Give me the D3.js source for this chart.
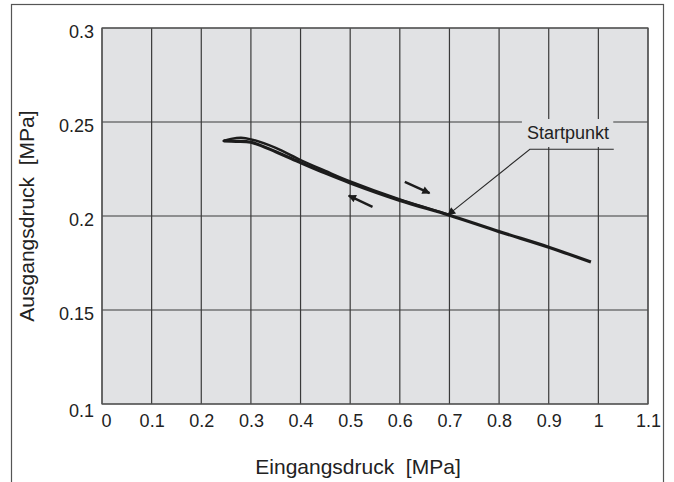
<!DOCTYPE html>
<html>
<head>
<meta charset="utf-8">
<script src="https://cdn.jsdelivr.net/npm/d3@7"></script>
<style>
  html, body { margin: 0; padding: 0; background: #ffffff; }
  svg { display: block; font-family: "Liberation Sans", Arial, Helvetica, sans-serif; }
  text { white-space: pre; }
</style>
</head>
<body>
<svg id="chart" width="674" height="482"></svg>
<script>
// ---- data ----
const xTicks = [0, 0.1, 0.2, 0.3, 0.4, 0.5, 0.6, 0.7, 0.8, 0.9, 1, 1.1];
const yTicks = [0.1, 0.15, 0.2, 0.25, 0.3];
const xTickLabels = ["0", "0.1", "0.2", "0.3", "0.4", "0.5", "0.6", "0.7", "0.8", "0.9", "1", "1.1"];
const yTickLabels = ["0.1", "0.15", "0.2", "0.25", "0.3"];

// branch with the upper bulge (near 0.25–0.45 MPa)
const upperX = [0.245, 0.26, 0.28, 0.30, 0.35, 0.40, 0.45, 0.50, 0.60, 0.70];
const upperY = [0.2400, 0.2410, 0.2416, 0.2408, 0.2362, 0.2298, 0.2240, 0.2184, 0.2088, 0.2006];
// main branch down to ~1 MPa
const lowerX = [0.245, 0.27, 0.30, 0.35, 0.40, 0.45, 0.50, 0.60, 0.70, 0.80, 0.90, 0.985];
const lowerY = [0.2400, 0.2397, 0.2392, 0.2342, 0.2284, 0.2228, 0.2176, 0.2083, 0.2004, 0.1917, 0.1834, 0.1755];

// direction arrows [x1, y1, x2, y2] (arrowhead at x2,y2)
const arrowRight = [0.610, 0.2182, 0.660, 0.2122];
const arrowLeft = [0.545, 0.2049, 0.497, 0.2108];

// Startpunkt annotation
const startPoint = [0.697, 0.2006];
const leaderElbow = [0.862, 0.2355];
const leaderEnd = [1.031, 0.2355];
const labelText = "Startpunkt";
const labelPos = [0.939, 0.2408];
const labelBox = [0.846, 0.2516, 1.030, 0.2367];

const xTitle = "Eingangsdruck  [MPa]";
const yTitle = "Ausgangsdruck  [MPa]";

// ---- layout ----
const svg = d3.select("#chart");
const pL = 102, pR = 648, pT = 28, pB = 404;
const x = d3.scaleLinear().domain([0, 1.1]).range([pL, pR]);
const y = d3.scaleLinear().domain([0.1, 0.3]).range([pB, pT]);

// outer frame (open at the bottom edge of the picture)
svg.append("rect")
  .attr("x", 11.5).attr("y", 4.5).attr("width", 652).attr("height", 500)
  .attr("fill", "none").attr("stroke", "#555").attr("stroke-width", 1.2);

// plot background
svg.append("rect")
  .attr("x", pL).attr("y", pT).attr("width", pR - pL).attr("height", pB - pT)
  .attr("fill", "#e1e2e4");

const gridColor = "#3a3a3a";
svg.append("g").selectAll("line").data(xTicks).join("line")
  .attr("x1", d => x(d)).attr("x2", d => x(d))
  .attr("y1", pT).attr("y2", pB)
  .attr("stroke", gridColor).attr("stroke-width", 1.2);
svg.append("g").selectAll("line").data(yTicks).join("line")
  .attr("x1", pL).attr("x2", pR)
  .attr("y1", d => y(d)).attr("y2", d => y(d))
  .attr("stroke", gridColor).attr("stroke-width", 1.2);
svg.append("rect")
  .attr("x", pL).attr("y", pT).attr("width", pR - pL).attr("height", pB - pT)
  .attr("fill", "none").attr("stroke", "#555").attr("stroke-width", 1.2);

// axes
const xAxis = d3.axisBottom(x).tickValues(xTicks).tickSize(0).tickPadding(0)
  .tickFormat((d, i) => xTickLabels[i]);
const gx = svg.append("g").attr("transform", `translate(0,${pB})`).call(xAxis);
gx.select(".domain").remove();
gx.selectAll("text")
  .attr("font-size", 18).attr("fill", "#222").attr("font-family", "Liberation Sans, Arial, sans-serif")
  .attr("dy", null).attr("y", 23)
  .attr("dx", (d, i) => i === 0 ? 4 : 0);

const yAxis = d3.axisLeft(y).tickValues(yTicks).tickSize(0).tickPadding(0)
  .tickFormat((d, i) => yTickLabels[i]);
const gy = svg.append("g").attr("transform", `translate(${pL},0)`).call(yAxis);
gy.select(".domain").remove();
gy.selectAll("text")
  .attr("font-size", 18).attr("fill", "#222").attr("font-family", "Liberation Sans, Arial, sans-serif")
  .attr("x", -8).attr("dy", (d) => d === 0.1 ? "0.7em" : "0.5em");

// axis titles
svg.append("text")
  .attr("x", (pL + pR) / 2 - 17).attr("y", 474)
  .attr("text-anchor", "middle").attr("font-size", 21).attr("fill", "#222")
  .text(xTitle);
svg.append("text")
  .attr("transform", `translate(34,${(pT + pB) / 2}) rotate(-90)`)
  .attr("text-anchor", "middle").attr("font-size", 21).attr("fill", "#222")
  .text(yTitle);

// curves
const line = d3.line().x(d => x(d[0])).y(d => y(d[1])).curve(d3.curveCatmullRom.alpha(0.5));
const upper = upperX.map((v, i) => [v, upperY[i]]);
const lower = lowerX.map((v, i) => [v, lowerY[i]]);
svg.append("path").attr("d", line(upper))
  .attr("fill", "none").attr("stroke", "#1c1c1c").attr("stroke-width", 2.4).attr("stroke-linecap", "round");
svg.append("path").attr("d", line(lower))
  .attr("fill", "none").attr("stroke", "#1c1c1c").attr("stroke-width", 3.2).attr("stroke-linecap", "butt");

// arrow markers
const defs = svg.append("defs");
defs.append("marker").attr("id", "ah").attr("viewBox", "0 0 10 10")
  .attr("refX", 9).attr("refY", 5).attr("markerWidth", 11).attr("markerHeight", 8)
  .attr("markerUnits", "userSpaceOnUse").attr("orient", "auto")
  .append("path").attr("d", "M0,0 L10,5 L0,10 Z").attr("fill", "#1c1c1c");
defs.append("marker").attr("id", "ah2").attr("viewBox", "0 0 10 10")
  .attr("refX", 9).attr("refY", 5).attr("markerWidth", 11).attr("markerHeight", 8)
  .attr("markerUnits", "userSpaceOnUse").attr("orient", "auto")
  .append("path").attr("d", "M0,0 L10,5 L0,10 Z").attr("fill", "#1c1c1c");

[arrowRight, arrowLeft].forEach(a => {
  svg.append("line")
    .attr("x1", x(a[0])).attr("y1", y(a[1])).attr("x2", x(a[2])).attr("y2", y(a[3]))
    .attr("stroke", "#1c1c1c").attr("stroke-width", 2.4).attr("marker-end", "url(#ah)");
});

// Startpunkt label box (covers grid) + text
svg.append("rect")
  .attr("x", x(labelBox[0])).attr("y", y(labelBox[1]))
  .attr("width", x(labelBox[2]) - x(labelBox[0])).attr("height", y(labelBox[3]) - y(labelBox[1]))
  .attr("fill", "#e1e2e4");
svg.append("text")
  .attr("x", x(labelPos[0])).attr("y", y(labelPos[1]))
  .attr("text-anchor", "middle").attr("font-size", 18).attr("fill", "#222")
  .text(labelText);
svg.append("path")
  .attr("d", `M${x(leaderEnd[0])},${y(leaderEnd[1])} L${x(leaderElbow[0])},${y(leaderElbow[1])} L${x(startPoint[0])},${y(startPoint[1])}`)
  .attr("fill", "none").attr("stroke", "#2a2a2a").attr("stroke-width", 1.1)
  .attr("marker-end", "url(#ah2)");
</script>
</body>
</html>
